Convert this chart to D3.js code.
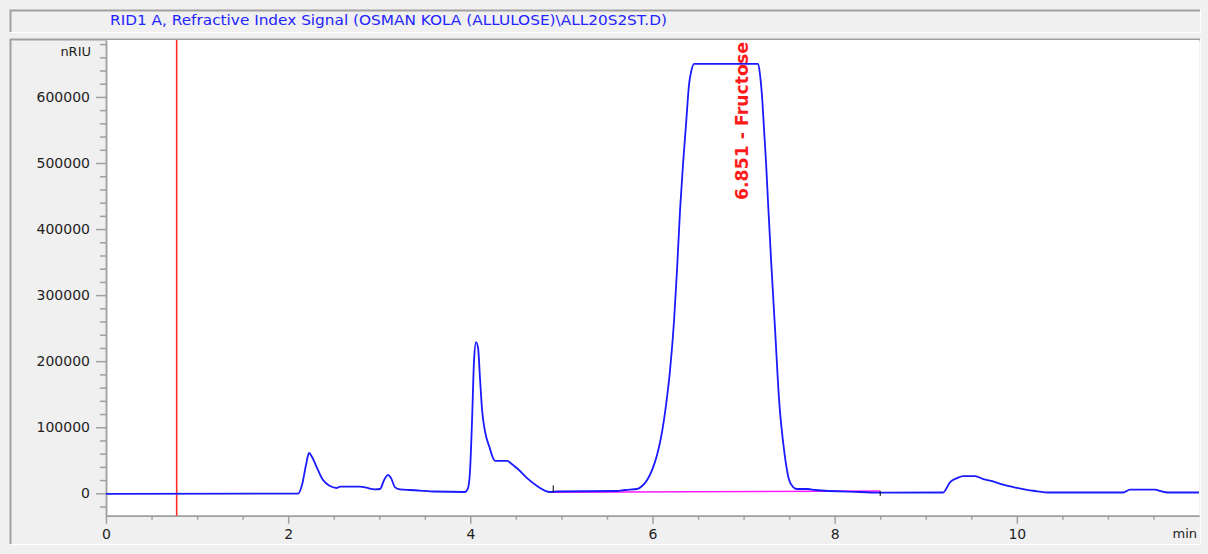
<!DOCTYPE html>
<html>
<head>
<meta charset="utf-8">
<script src="https://cdn.jsdelivr.net/npm/d3@7"></script>
<style>
  body { margin: 0; background: #f0f0f0; }
  svg text { font-family: "DejaVu Sans", sans-serif; }
</style>
</head>
<body>
<script>
// retention time (min) and RID signal (nRIU)
const time = [0, 2.108, 2.152, 2.196, 2.229, 2.262, 2.328, 2.383, 2.46, 2.536, 2.569, 2.789, 2.844, 2.954,
  3.009, 3.053, 3.097, 3.13, 3.174, 3.228, 3.338, 3.448, 3.591, 3.942, 3.975, 3.997, 4.019, 4.041, 4.063,
  4.085, 4.107, 4.129, 4.162, 4.206, 4.272, 4.403, 4.458, 4.513, 4.623, 4.733, 4.875, 4.952, 5.611, 5.699,
  5.831, 5.886, 5.941, 5.995, 6.05, 6.105, 6.149, 6.193, 6.237, 6.27, 6.303, 6.336, 6.369, 6.402, 6.424,
  6.457, 7.16, 7.181, 7.203, 7.225, 7.247, 7.269, 7.302, 7.346, 7.39, 7.445, 7.5, 7.544, 7.588, 7.708,
  7.785, 8.279, 8.499, 9.191, 9.268, 9.345, 9.411, 9.542, 9.63, 9.74, 9.85, 9.959, 10.069, 10.201, 10.366,
  11.167, 11.244, 11.519, 11.574, 11.661, 12];
const signal = [-1000, -500, 12500, 43000, 61000, 55000, 35000, 20000, 11000, 8000, 10000, 10000, 9000, 6000,
  6500, 20000, 28000, 23000, 9000, 6000, 5000, 4200, 2700, 2000, 8000, 35000, 111000, 202000, 229000,
  220000, 172000, 126000, 93000, 71600, 49000, 49000, 44000, 38000, 23000, 11000, 2000, 2700, 3500, 5000,
  6500, 11000, 20000, 35000, 58000, 93000, 134000, 187000, 262000, 340000, 430000, 500000, 560000, 620000, 638000,
  650000, 650000, 633000, 600000, 550000, 500000, 439000, 353000, 247000, 141000, 65000, 20000, 9500, 6500, 6500,
  5000, 2000, 1000, 1200, 17000, 23000, 26000, 26000, 21500, 18000, 13000, 9500, 6500, 3500, 1200,
  1200, 5700, 5700, 3500, 1200, 1200];

// integration baseline of the Fructose peak
const baseTime = [4.91, 8.5];
const baseSignal = [1500, 3500];

const xTicks = [0, 2, 4, 6, 8, 10];
const yTicks = [0, 100000, 200000, 300000, 400000, 500000, 600000];
const markerTime = 0.776;
const peakLabel = "6.851  -  Fructose";
const title = "RID1 A, Refractive Index Signal (OSMAN KOLA (ALLULOSE)\\ALL20S2ST.D)";

const W = 1208, H = 554;
const plot = {left: 106, right: 1199, top: 40, bottom: 515.7};

const svg = d3.select("body").append("svg")
    .attr("width", W)
    .attr("height", H);

svg.append("rect").attr("width", W).attr("height", H).attr("fill", "#f0f0f0");

// title box (sunken)
svg.append("rect").attr("x", 10).attr("y", 9.5).attr("width", 1190).attr("height", 23).attr("fill", "#f0f0f0");
svg.append("path").attr("d", "M10.5,32V10.5H1200").attr("fill", "none").attr("stroke", "#a0a0a0").attr("stroke-width", 2);
svg.append("path").attr("d", "M10,32.5H1200.5V10").attr("fill", "none").attr("stroke", "#fff").attr("stroke-width", 1);
svg.append("text")
    .attr("x", 110).attr("y", 25)
    .attr("font-size", 14)
    .attr("fill", "#2424ff")
    .attr("textLength", 557)
    .attr("lengthAdjust", "spacingAndGlyphs")
    .text(title);

// chart panel (sunken)
svg.append("path").attr("d", "M10.5,544V39.5H1200").attr("fill", "none").attr("stroke", "#a0a0a0").attr("stroke-width", 2);
svg.append("path").attr("d", "M10,544.5H1200.5V39").attr("fill", "none").attr("stroke", "#fff").attr("stroke-width", 1);

svg.append("rect")
    .attr("x", plot.left).attr("y", plot.top)
    .attr("width", plot.right - plot.left).attr("height", plot.bottom - plot.top)
    .attr("fill", "#fff");

const x = d3.scaleLinear().domain([0, 12]).range([plot.left, plot.right]);
const y = d3.scaleLinear().domain([-33900, 686200]).range([plot.bottom, plot.top]);

// minor ticks
const xMinor = d3.range(0, 12.01, 0.5).filter(v => v % 2 !== 0);
const yMinor = d3.range(-20000, 686000, 20000).filter(v => v % 100000 !== 0);

function styleAxis(g) {
  g.selectAll(".domain").attr("stroke", "#a0a0a0").attr("stroke-width", 1.5);
  g.selectAll(".tick line").attr("stroke", "#a0a0a0").attr("stroke-width", 1.5);
  g.selectAll(".tick text").attr("fill", "#1e1e1e").attr("font-size", 14)
    .attr("font-family", "DejaVu Sans, sans-serif");
}

svg.append("g")
    .attr("transform", `translate(0,${plot.bottom})`)
    .call(d3.axisBottom(x).tickValues(xMinor).tickSize(4).tickSizeOuter(0).tickFormat(""))
    .call(styleAxis);
svg.append("g")
    .attr("transform", `translate(0,${plot.bottom})`)
    .call(d3.axisBottom(x).tickValues(xTicks).tickSize(8).tickSizeOuter(0).tickPadding(5).tickFormat(d3.format("d")))
    .call(styleAxis);

svg.append("g")
    .attr("transform", `translate(${plot.left},0)`)
    .call(d3.axisLeft(y).tickValues(yMinor).tickSize(6).tickSizeOuter(0).tickFormat(""))
    .call(styleAxis);
svg.append("g")
    .attr("transform", `translate(${plot.left},0)`)
    .call(d3.axisLeft(y).tickValues(yTicks).tickSize(10).tickSizeOuter(0).tickPadding(6).tickFormat(d3.format("d")))
    .call(styleAxis);

svg.append("text")
    .attr("x", 91).attr("y", 55.5)
    .attr("text-anchor", "end")
    .attr("font-size", 13)
    .attr("fill", "#1e1e1e")
    .text("nRIU");

svg.append("text")
    .attr("x", 1197).attr("y", 537.5)
    .attr("text-anchor", "end")
    .attr("font-size", 13)
    .attr("fill", "#1e1e1e")
    .text("min");

// red marker line
svg.append("line")
    .attr("x1", x(markerTime)).attr("x2", x(markerTime))
    .attr("y1", plot.top).attr("y2", plot.bottom)
    .attr("stroke", "#ff2a2a")
    .attr("stroke-width", 1.6);

const pts = time.map((t, i) => [t, signal[i]]);
const line = d3.line().x(d => x(d[0])).y(d => y(d[1]));
const smooth = d3.line().curve(d3.curveMonotoneX).x(d => x(d[0])).y(d => y(d[1]));

// integration baseline (under the trace)
const basePts = baseTime.map((t, i) => [t, baseSignal[i]]);
svg.append("path")
    .datum(basePts)
    .attr("fill", "none")
    .attr("stroke", "#ff1aff")
    .attr("stroke-width", 1.6)
    .attr("d", line);

svg.append("path")
    .datum(pts)
    .attr("fill", "none")
    .attr("stroke", "#1a1aff")
    .attr("stroke-width", 1.8)
    .attr("stroke-linejoin", "round")
    .attr("d", smooth);

// start / end tick marks
svg.append("line")
    .attr("x1", x(baseTime[0])).attr("x2", x(baseTime[0]))
    .attr("y1", y(baseSignal[0]) - 7).attr("y2", y(baseSignal[0]))
    .attr("stroke", "#000").attr("stroke-width", 1);
svg.append("line")
    .attr("x1", x(baseTime[1])).attr("x2", x(baseTime[1]))
    .attr("y1", y(baseSignal[1])).attr("y2", y(baseSignal[1]) + 5)
    .attr("stroke", "#000").attr("stroke-width", 1);

// peak label
svg.append("text")
    .attr("transform", `translate(747.5,200) rotate(-90)`)
    .attr("font-size", 17)
    .attr("font-weight", "bold")
    .attr("fill", "#ff1a1a")
    .attr("textLength", 158)
    .attr("lengthAdjust", "spacingAndGlyphs")
    .text(peakLabel);
</script>
</body>
</html>
